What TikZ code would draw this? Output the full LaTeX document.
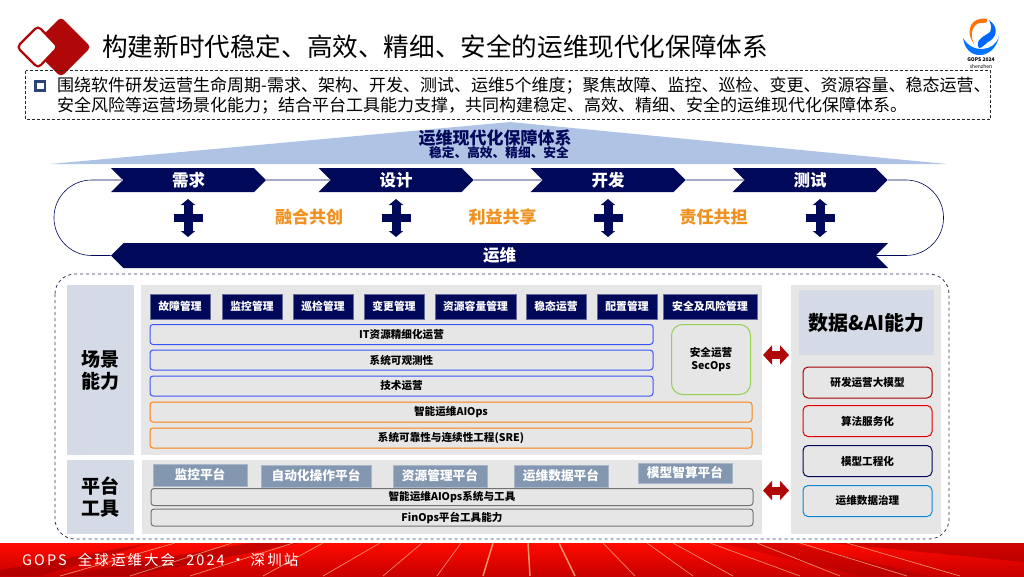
\documentclass[tikz,border=0pt]{standalone}
\usepackage{fontspec}
\setmainfont{Noto Sans CJK SC}
\newfontfamily\footfont[LetterSpace=14]{Noto Sans CJK SC}
\usepackage{xcolor}
\usetikzlibrary{arrows.meta,positioning,calc,shapes.symbols}
\definecolor{navy}{HTML}{00085A}
\definecolor{slate}{HTML}{8497B0}
\definecolor{panelgray}{HTML}{E6E6E6}
\definecolor{sidegray}{HTML}{D5DBE6}
\definecolor{darkred}{HTML}{B00808}
\definecolor{roofblue}{HTML}{AFC3E4}
\definecolor{shareorange}{HTML}{F0901E}
\definecolor{secgreen}{HTML}{92D050}
\definecolor{barblue}{HTML}{3A55F5}
\definecolor{barorange}{HTML}{FA8210}
\definecolor{bullet}{HTML}{2A4478}
\newcommand{\fs}[1]{\fontsize{#1}{#1}\selectfont}
\tikzset{
  panel/.style={fill=panelgray, inner sep=0pt},
  sidebox/.style={fill=sidegray, inner sep=0pt, align=center, font={\fs{19}\bfseries}},
  stagebox/.style={signal, signal from=west, signal to=east, fill=navy, text=white, inner sep=0pt,
               minimum width=155pt, minimum height=24pt, font={\fs{16.5}\bfseries}},
  sharetext/.style={text=shareorange, font={\fs{17}\bfseries}, inner sep=0pt},
  navytab/.style={fill=navy, draw=navy!60!white, line width=0.5pt, text=white, inner sep=0pt,
               minimum height=25pt, font={\fs{10.8}\bfseries}},
  slatetab/.style={fill=slate, draw=slate!70!white, line width=0.5pt, text=white, inner sep=0pt,
               minimum height=22pt, font={\fs{12.7}\bfseries}},
  lbar/.style={draw, rounded corners=3pt, line width=1pt, inner sep=0pt, minimum height=20pt,
               font={\fs{10.6}\bfseries}},
  bluebar/.style={lbar, draw=barblue, minimum width=503pt},
  orangebar/.style={lbar, draw=barorange, minimum width=602pt},
  graybar/.style={lbar, draw=black!55, minimum width=602pt, minimum height=17pt},
  abox/.style={lbar, rounded corners=5pt, minimum width=129pt, minimum height=31pt},
  flow/.style={draw=navy!35!white, line width=1.6pt},
  loopline/.style={draw=navy, line width=0.6pt},
  redlink/.style={{Triangle[length=9pt,width=19pt]}-{Triangle[length=9pt,width=19pt]}, darkred, line width=8pt},
  crossarrow/.style={{Triangle[length=6pt,width=14pt]}-{Triangle[length=6pt,width=14pt]}, navy, line width=9pt},
}

\begin{document}
\begin{tikzpicture}[x=1pt,y=-1pt]
  \useasboundingbox (0,0) rectangle (1024,576);

  % header
  \fill[darkred, rounded corners=4pt] (61,17) -- (91,47) -- (61,77) -- (31,47) -- cycle;
  \draw[fill=white, draw=darkred, line width=2.2pt, rounded corners=4pt] (38,26) -- (58,47) -- (38,68) -- (17,47) -- cycle;
  \node[anchor=west, inner sep=0pt, font=\fs{25.6}] (title) at (102,47) {构建新时代稳定、高效、精细、安全的运维现代化保障体系};
  \fill[blue!55!cyan] (963,38) .. controls (966,62) and (995,60) .. (999,36) .. controls (995,52) and (972,54) .. (963,38);
  \fill[orange!90!red] (974,44) .. controls (964,30) and (972,16) .. (987,19) .. controls (988,22) and (985,24) .. (983,23) .. controls (975,21) and (968,32) .. (974,44);
  \fill[blue!60!cyan] (989,20) .. controls (1000,28) and (996,38) .. (988,42) .. controls (984,45) and (982,48) .. (979,48) .. controls (974,40) and (985,36) .. (990,32) .. controls (992,28) and (991,24) .. (989,20);
  \node[inner sep=0pt, font={\fs{5}\bfseries}] (logoa) at (981,60) {GOPS 2024};
  \node[inner sep=0pt, font=\fs{5}] (logob) at (981,67) {shenzhen};

  % intro
  \draw[black!85, densely dashed, line width=0.6pt] (25.5,70.5) rectangle (990,119.5);
  \draw[bullet, line width=2.6pt] (35.5,81.5) rectangle (45,90.5);
  \node[anchor=west, inner sep=0pt, align=left, font={\fontsize{17}{20}\selectfont}] (intro) at (57,96) {围绕软件研发运营生命周期-需求、架构、开发、测试、运维5个维度；聚焦故障、监控、巡检、变更、资源容量、稳态运营、\\安全风险等运营场景化能力；结合平台工具能力支撑，共同构建稳定、高效、精细、安全的运维现代化保障体系。};

  % lifecycle
  \fill[roofblue] (50,164) -- (510,122) -- (947,164) -- cycle;
  \node[inner sep=0pt, text=navy, font={\fs{17}\bfseries}] (sysa) at (495,138) {运维现代化保障体系};
  \node[inner sep=0pt, text=navy, font={\fs{12.7}\bfseries}] (sysb) at (499,153) {稳定、高效、精细、安全};

  \node[stagebox] (req) at (188.5,180) {需求};
  \node[stagebox] (dsg) at (396,180) {设计};
  \node[stagebox] (dev) at (608,180) {开发};
  \node[stagebox] (tst) at (810,180) {测试};
  \node[stagebox, signal from=east, signal to=west, minimum width=777pt, minimum height=25pt] (ops) at (499.5,255.5) {运维};
  \draw[flow] (req) -- (dsg);
  \draw[flow] (dsg) -- (dev);
  \draw[flow] (dev) -- (tst);
  \draw[loopline] (ops.west) -- ++(-19,0) arc[start angle=90, end angle=270, radius=37.75] -- (req.west);
  \draw[loopline] (tst.east) -- ++(18,0) arc[start angle=270, end angle=450, radius=37.75] -- (ops.east);
  \draw[flow] (req.west) -- ++(-31,0);
  \draw[flow] (tst.east) -- ++(18,0);

  \foreach \cx in {188,396,608,820} {
    \draw[crossarrow] (\cx,199) -- (\cx,237);
    \fill[navy] (\cx-14.5,214) rectangle (\cx+14.5,222);
  }
  \node[sharetext] (sha) at (309,217) {融合共创};
  \node[sharetext] (shb) at (502.5,217) {利益共享};
  \node[sharetext] (shc) at (713.5,217) {责任共担};

  % capability frame
  \draw[black!25!navy!60!gray, dashed, line width=0.8pt, rounded corners=20pt] (55,274) rectangle (949,539);
  \node[sidebox, minimum width=67pt, minimum height=170pt] (scn) at (100.5,370) {场景\\[3pt]能力};
  \node[panel, minimum width=621pt, minimum height=170pt] (scp) at (451.5,370) {};
  \node[sidebox, minimum width=67pt, minimum height=74pt] (plt) at (100.5,497) {平台\\[3pt]工具};
  \node[panel, minimum width=620pt, minimum height=74pt] (plp) at (452,497) {};
  \node[panel, minimum width=150pt, minimum height=249pt] (aip) at (866,409.5) {};
  \node[sidebox, font={\fs{20}\bfseries}, minimum width=135pt, minimum height=65pt] (aih) at (866.5,322.5) {数据\&AI能力};

  \node[navytab, minimum width=60pt] (ta) at (180,306.5) {故障管理};
  \node[navytab, minimum width=60pt] (tb) at (252,306.5) {监控管理};
  \node[navytab, minimum width=60pt] (tc) at (323,306.5) {巡检管理};
  \node[navytab, minimum width=60pt] (td) at (394,306.5) {变更管理};
  \node[navytab, minimum width=81pt] (te) at (475.5,306.5) {资源容量管理};
  \node[navytab, minimum width=60pt] (tf) at (556,306.5) {稳态运营};
  \node[navytab, minimum width=60pt] (tg) at (627,306.5) {配置管理};
  \node[navytab, minimum width=94pt] (th) at (710,306.5) {安全及风险管理};

  \node[bluebar] (ba) at (401.5,334.5) {IT资源精细化运营};
  \node[bluebar] (bb) at (401.5,360) {系统可观测性};
  \node[bluebar] (bc) at (401.5,386) {技术运营};
  \node[orangebar] (bd) at (451,412) {智能运维AIOps};
  \node[orangebar] (be) at (451,438) {系统可靠性与连续性工程(SRE)};
  \node[lbar, draw=secgreen, rounded corners=11pt, minimum width=79pt, minimum height=70pt, align=center] (sec) at (711,359.5) {安全运营\\[2pt]SecOps};

  \node[slatetab, minimum width=94pt] (pa) at (200,475) {监控平台};
  \node[slatetab, minimum width=110pt] (pb) at (316,476) {自动化操作平台};
  \node[slatetab, minimum width=94pt] (pc) at (440,476) {资源管理平台};
  \node[slatetab, minimum width=94pt] (pd) at (561,476) {运维数据平台};
  \node[slatetab, minimum width=94pt, minimum height=20pt] (pe) at (685,473) {模型智算平台};
  \node[graybar] (ga) at (452,497) {智能运维AIOps系统与工具};
  \node[graybar] (gb) at (452,517.5) {FinOps平台工具能力};

  \node[abox, draw=red!65!black] (aa) at (867.5,382.5) {研发运营大模型};
  \node[abox, draw=red!90!black] (ab) at (867.5,421) {算法服务化};
  \node[abox, draw=navy] (ac) at (867.5,461) {模型工程化};
  \node[abox, draw=cyan!70!blue] (ad) at (867.5,501) {运维数据治理};

  \coordinate (la) at (763,355);
  \coordinate (lb) at (789,355);
  \coordinate (lc) at (763,490.5);
  \coordinate (ld) at (789,490.5);
  \draw[redlink] (la) -- (lb);
  \draw[redlink] (lc) -- (ld);

  % footer
  \shade[top color=red!92!orange, bottom color=red!78!black] (0,543) rectangle (1024,576);
  \fill[red!62!black, opacity=0.55] (0,570) -- (150,543) -- (40,576) -- (0,576) -- cycle;
  \fill[red!62!black, opacity=0.55] (60,576) -- (250,543) -- (300,543) -- (130,576) -- cycle;
  \fill[red!62!black, opacity=0.5] (830,543) -- (1024,543) -- (1024,562) -- cycle;
  \fill[red!62!black, opacity=0.35] (720,543) -- (790,543) -- (930,576) -- (860,576) -- cycle;
  \foreach \ta/\tb in {175/60,232/130,293/190,323/263,380/323,422/383,461/437,603/635,647/693,673/733,710/800,757/840,800/907,847/960} {
    \draw[orange!35!white, opacity=0.65, line width=0.7pt] (\ta,543) -- (\tb,576);
  }
  \foreach \ta/\tb in {493/483,528/530,559/575} {
    \draw[orange!45!white, opacity=0.75, line width=1.5pt] (\ta,543) -- (\tb,576);
  }
  \node[anchor=west, inner sep=0pt, text=white, font={\footfont\fs{14.5}}] (foot) at (22,560) {GOPS\hspace{6pt} 全球运维大会\hspace{6pt} 2024\hspace{1pt} · 深圳站};
\end{tikzpicture}
\end{document}
